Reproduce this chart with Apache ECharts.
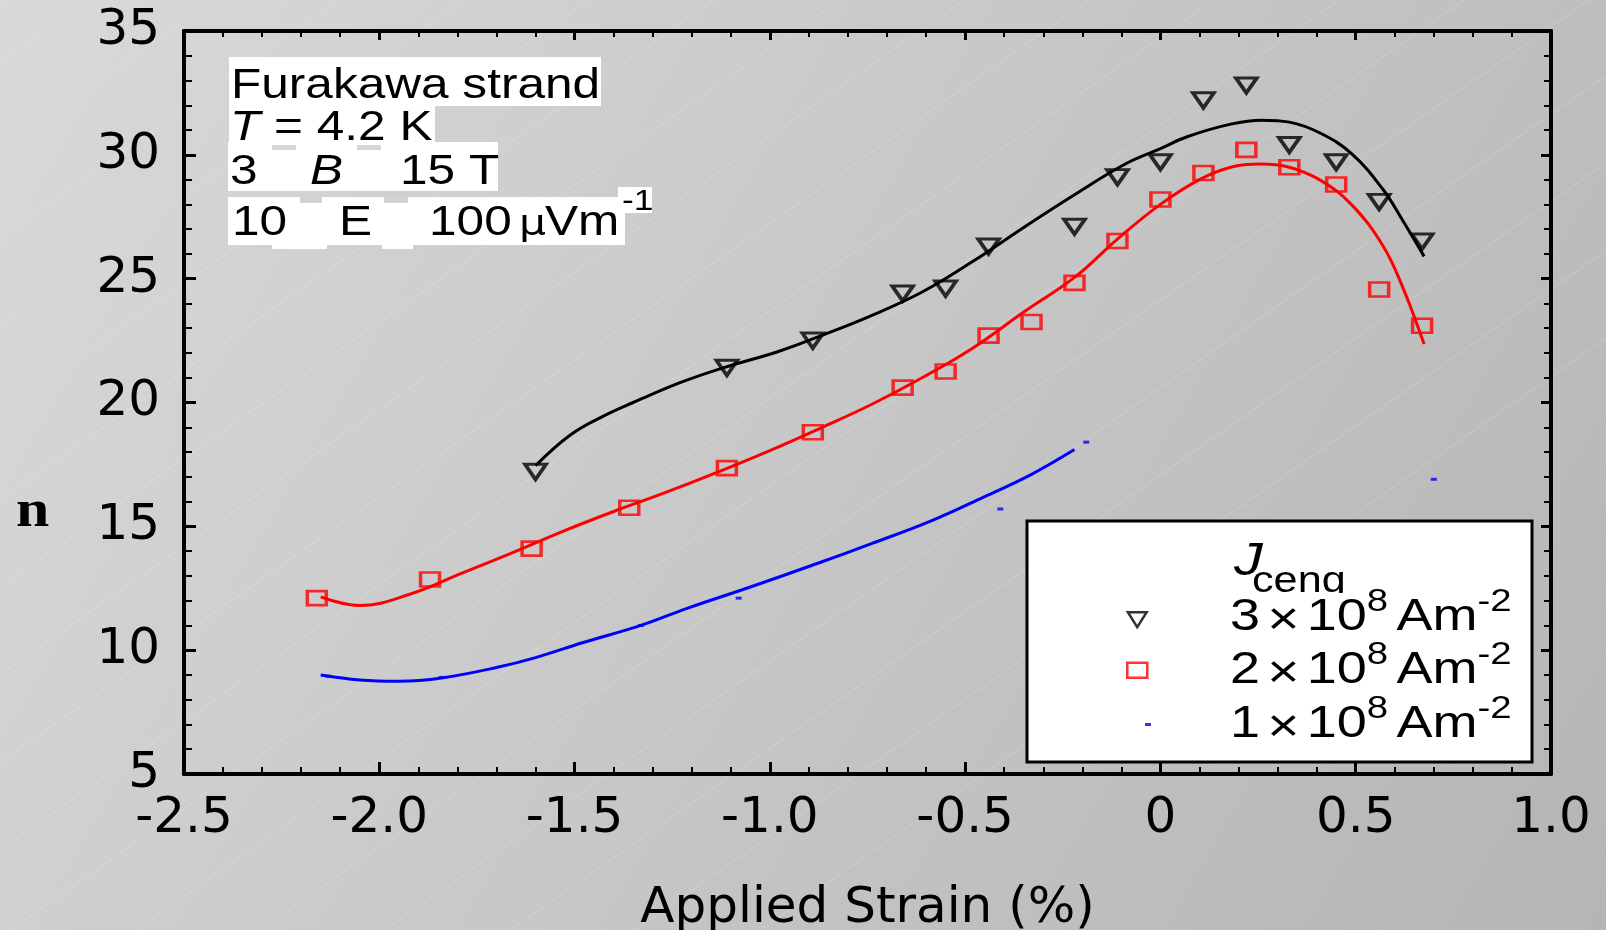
<!DOCTYPE html>
<html>
<head>
<meta charset="utf-8">
<title>n vs applied strain</title>
<script src="https://cdn.jsdelivr.net/npm/echarts@6/dist/echarts.min.js"></script>
<style>
html, body { margin: 0; padding: 0; }
#chart { width: 1606px; height: 930px; }
</style>
</head>
<body>
<div id="chart"></div>
<script>
// x ticks shown as text
var strainTicks = [-2.5, -2.0, -1.5, -1.0, -0.5, 0, 0.5, 1.0];

// measured n, Jc eng = 3e8 A/m2 (triangles)
var tri3x = [-1.60, -1.11, -0.89, -0.66, -0.55, -0.44, -0.22, -0.11, 0.00, 0.11, 0.22, 0.33, 0.45, 0.56, 0.67];
var tri3n = [17.2, 21.4, 22.5, 24.4, 24.6, 26.3, 27.1, 29.1, 29.7, 32.2, 32.8, 30.4, 29.7, 28.1, 26.5];

// measured n, 2e8 A/m2 (squares)
var sq2x = [-2.16, -1.87, -1.61, -1.36, -1.11, -0.89, -0.66, -0.55, -0.44, -0.33, -0.22, -0.11, 0.00, 0.11, 0.22, 0.33, 0.45, 0.56, 0.67];
var sq2n = [12.1, 12.85, 14.1, 15.75, 17.35, 18.8, 20.6, 21.25, 22.7, 23.25, 24.83, 26.52, 28.2, 29.27, 30.2, 29.5, 28.8, 24.56, 23.1];

// measured n, 1e8 A/m2 (dashes)
var dash1x = [-2.13, -1.84, -1.33, -1.08, -0.41, -0.19, 0.70];
var dash1n = [8.95, 8.9, 11.0, 12.1, 15.7, 18.4, 16.9];

// fitted curves
var fit3x = [-1.60, -1.51, -1.42, -1.35, -1.23, -1.12, -0.98, -0.87, -0.74, -0.61, -0.48, -0.35, -0.22, -0.09, 0.00, 0.07, 0.18, 0.26, 0.33, 0.41, 0.49, 0.57, 0.62, 0.675];
var fit3n = [17.45, 18.7, 19.5, 20.0, 20.8, 21.4, 22.05, 22.69, 23.51, 24.46, 25.70, 27.07, 28.39, 29.63, 30.25, 30.74, 31.24, 31.40, 31.32, 30.87, 30.04, 28.60, 27.36, 25.9];

var fit2x = [-2.15, -2.05, -1.92, -1.79, -1.66, -1.53, -1.40, -1.27, -1.14, -1.00, -0.87, -0.74, -0.61, -0.48, -0.35, -0.22, -0.11, 0.00, 0.10, 0.18, 0.255, 0.33, 0.41, 0.49, 0.57, 0.62, 0.675];
var fit2n = [12.15, 11.8, 12.27, 13.1, 13.93, 14.8, 15.6, 16.35, 17.15, 18.06, 18.97, 19.92, 21.0, 22.2, 23.65, 25.05, 26.6, 28.0, 29.0, 29.5, 29.63, 29.5, 28.97, 27.98, 26.32, 24.67, 22.36];

var fit1x = [-2.15, -2.05, -1.95, -1.84, -1.70, -1.60, -1.48, -1.33, -1.21, -1.05, -0.87, -0.74, -0.59, -0.45, -0.33, -0.22];
var fit1n = [9.0, 8.8, 8.75, 8.88, 9.3, 9.7, 10.3, 11.0, 11.7, 12.55, 13.55, 14.3, 15.2, 16.2, 17.1, 18.1];

// legend rows: mantissa, exponent, unit power
var legendRows = [['3', '8', '-2'], ['2', '8', '-2'], ['1', '8', '-2']];

function zip(xs, ys) {
    return xs.map(function (x, i) { return [x, ys[i]]; });
}

var font = 'Liberation Sans';
var axisFont = 'DejaVu Sans';
var myChart = echarts.init(document.getElementById('chart'));

// put text by its baseline
function txt(str, x, base, fs, extra, sx) {
    var o = {
        type: 'text', x: x, y: base - 0.35 * fs, scaleX: sx || 1.18, z: 20,
        style: { text: str, x: 0, y: 0, fontSize: fs, fontFamily: font, fill: '#000',
                 align: 'left', verticalAlign: 'middle' }
    };
    if (extra) {
        for (var k in extra) o.style[k] = extra[k];
    }
    return o;
}
function box(x1, y1, x2, y2, z, fill) {
    return { type: 'rect', z: z || 15, shape: { x: x1, y: y1, width: x2 - x1, height: y2 - y1 },
             style: { fill: fill || '#fff' } };
}

var graphics = [];

// faint diagonal streaks of the slide background
for (var k = -3; k < 24; k++) {
    var x0 = 1714 - k * 125;
    graphics.push({
        type: 'line', z: -1, silent: true,
        shape: { x1: x0, y1: 0, x2: x0 - 930 / 0.7, y2: 930 },
        style: { stroke: 'rgba(255,255,255,0.2)', lineWidth: 1 }
    });
}

graphics = graphics.concat([
    // annotation boxes
    box(229, 57, 601, 106),
    box(229, 106, 435, 142),
    box(228, 142, 498, 191),
    box(228, 197, 625, 245),
    box(618, 187, 652, 213),
    box(272, 240, 327, 249),
    box(382, 240, 413, 249),
    box(272, 145, 296, 150, 16, '#d6d6d6'),
    box(357, 145, 381, 150, 16, '#d6d6d6'),
    box(300, 197, 322, 203, 16, '#d3d3d3'),
    box(384, 197, 408, 203, 16, '#d3d3d3'),
    txt('Furakawa strand', 231, 101, 42),
    txt('{i|T}{r| = 4.2 K}', 230, 143, 42, {
        rich: { i: { fontStyle: 'italic', fontSize: 42, fontFamily: font }, r: { fontSize: 42, fontFamily: font } }
    }),
    txt('3', 230, 187, 42),
    txt('B', 310, 187, 42, { fontStyle: 'italic' }),
    txt('15 T', 400, 187, 42),
    txt('10', 232, 238, 42),
    txt('E', 339, 238, 42),
    txt('100', 429, 238, 42),
    txt('\u03bc', 519, 238, 36, { fontFamily: 'DejaVu Sans' }),
    txt('Vm', 545, 238, 42),
    txt('-1', 622, 212, 30),
    // y axis title
    txt('n', 16, 531, 52, { fontFamily: 'Liberation Serif', fontWeight: 'bold' }, 1.15),
    // legend frame
    { type: 'rect', z: 15, shape: { x: 1027, y: 521, width: 505, height: 241 },
      style: { fill: '#fff', stroke: '#000', lineWidth: 3 } },
    txt('J', 1234, 578, 46, { fontStyle: 'italic' }, 1.25),
    txt('ceng', 1252, 595, 36, null, 1.2),
    box(1248, 593, 1366, 606, 21)
]);

legendRows.forEach(function (r, i) {
    var t = txt('{n|' + r[0] + '}{x|\u00d7}{n|10}{s|' + r[1] + '}{a|Am}{s|' + r[2] + '}',
        1230, 633 + i * 53.5, 45, {
            rich: {
                n: { fontSize: 45, fontFamily: font },
                a: { fontSize: 45, fontFamily: font, padding: [0, 0, 0, 7] },
                x: { fontSize: 46, fontFamily: font, padding: [8, 6, 0, 6] },
                s: { fontSize: 32, fontFamily: font, padding: [0, 0, 31, 0] }
            }
        }, 1.2);
    t.z = 22;
    graphics.push(t);
});

option = {
    animation: false,
    backgroundColor: {
        type: 'linear', x: 0, y: 0, x2: 1, y2: 1,
        colorStops: [{ offset: 0, color: '#d9d9d9' }, { offset: 1, color: '#b5b5b5' }]
    },
    grid: { left: 184, right: 55, top: 31, bottom: 156, containLabel: false, outerBoundsMode: 'none' },
    legend: [
        {
            data: ['J3', 'J2'], orient: 'vertical', left: 1121, top: 606,
            itemWidth: 20, itemHeight: 15, itemGap: 33, selectedMode: false,
            formatter: function () { return ''; }, textStyle: { fontSize: 1 },
            itemStyle: { borderWidth: 2.5 }, z: 20
        },
        {
            data: ['J1'], orient: 'vertical', left: 1140, top: 718,
            itemWidth: 6, itemHeight: 3, selectedMode: false,
            formatter: function () { return ''; }, textStyle: { fontSize: 1 }, z: 20
        }
    ],
    xAxis: [
        {
            type: 'value', min: -2.5, max: 1.0, interval: 0.5, position: 'bottom',
            axisLine: { onZero: false, lineStyle: { color: '#000', width: 4 } },
            axisTick: { inside: true, length: 12, lineStyle: { color: '#000', width: 3 } },
            minorTick: { show: true, splitNumber: 5, length: 7, lineStyle: { color: '#000', width: 2 } },
            splitLine: { show: false },
            axisLabel: {
                margin: 20, fontSize: 50, fontFamily: axisFont, color: '#000',
                formatter: function (v) {
                    var t = strainTicks.filter(function (s) { return Math.abs(s - v) < 1e-9; })[0];
                    return t === 0 ? '0' : t.toFixed(1);
                }
            },
            name: 'Applied Strain (%)', nameLocation: 'middle', nameGap: 110,
            nameTextStyle: { fontSize: 50, fontFamily: axisFont, color: '#000' }
        },
        {
            type: 'value', min: -2.5, max: 1.0, interval: 0.5, position: 'top',
            axisLine: { onZero: false, lineStyle: { color: '#000', width: 4 } },
            axisTick: { inside: true, length: 9, lineStyle: { color: '#000', width: 3 } },
            minorTick: { show: true, splitNumber: 5, length: 6, lineStyle: { color: '#000', width: 2 } },
            splitLine: { show: false },
            axisLabel: { show: false }
        }
    ],
    yAxis: [
        {
            type: 'value', min: 5, max: 35, interval: 5, position: 'left',
            axisLine: { onZero: false, lineStyle: { color: '#000', width: 4 } },
            axisTick: { inside: true, length: 12, lineStyle: { color: '#000', width: 3 } },
            minorTick: { show: true, splitNumber: 5, length: 8, lineStyle: { color: '#000', width: 2 } },
            splitLine: { show: false },
            axisLabel: { margin: 24, fontSize: 50, fontFamily: axisFont, color: '#000', padding: [7, 0, 0, 0] }
        },
        {
            type: 'value', min: 5, max: 35, interval: 5, position: 'right',
            axisLine: { onZero: false, lineStyle: { color: '#000', width: 4 } },
            axisTick: { inside: true, length: 10, lineStyle: { color: '#000', width: 3 } },
            minorTick: { show: true, splitNumber: 5, length: 7, lineStyle: { color: '#000', width: 2 } },
            splitLine: { show: false },
            axisLabel: { show: false }
        }
    ],
    series: [
        {
            name: 'fit3', type: 'line', data: zip(fit3x, fit3n), smooth: 0.4,
            symbol: 'none', lineStyle: { color: '#000', width: 3 }, silent: true, z: 2
        },
        {
            name: 'fit2', type: 'line', data: zip(fit2x, fit2n), smooth: 0.4,
            symbol: 'none', lineStyle: { color: '#ff0000', width: 3 }, silent: true, z: 2
        },
        {
            name: 'fit1', type: 'line', data: zip(fit1x, fit1n), smooth: 0.4,
            symbol: 'none', lineStyle: { color: '#0000ff', width: 3 }, silent: true, z: 2
        },
        {
            name: 'J3', type: 'scatter', data: zip(tri3x, tri3n),
            symbol: 'path://M0,0 L20,0 L10,16 Z', symbolSize: [21, 15],
            itemStyle: { color: 'rgba(0,0,0,0)', borderColor: '#000', borderWidth: 3.5 }, z: 3
        },
        {
            name: 'J2', type: 'scatter', data: zip(sq2x, sq2n),
            symbol: 'rect', symbolSize: [19, 14],
            itemStyle: { color: 'rgba(0,0,0,0)', borderColor: '#ff0000', borderWidth: 3 }, z: 3
        },
        {
            name: 'J1', type: 'scatter', data: zip(dash1x, dash1n),
            symbol: 'rect', symbolSize: [6, 3],
            itemStyle: { color: '#0000ff' }, z: 3
        }
    ],
    graphic: { elements: graphics }
};

myChart.setOption(option, true);
</script>
</body>
</html>
